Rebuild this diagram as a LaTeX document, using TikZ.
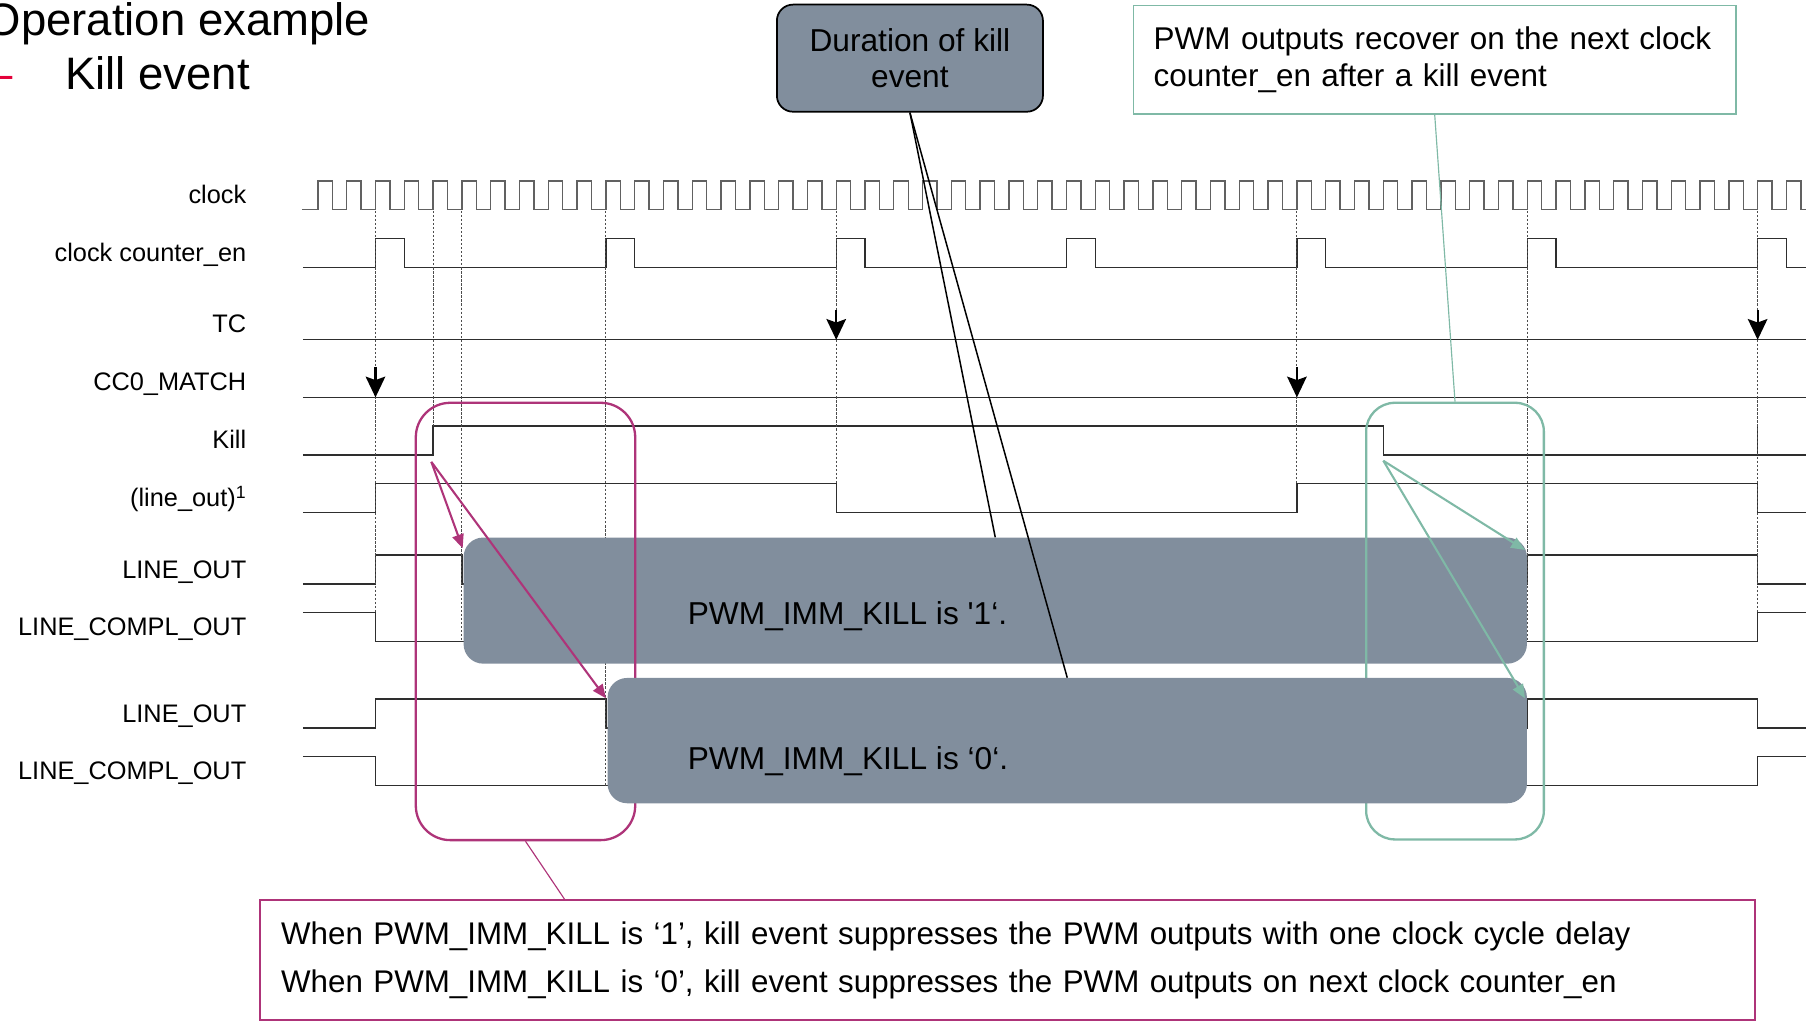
\documentclass[tikz,border=0pt]{standalone}
\usepackage{fontspec}
\setmainfont{Liberation Sans}
\newfontfamily\plainquote{Liberation Sans}
\usepackage{tikz}
\usetikzlibrary{positioning,arrows.meta}
\definecolor{killgray}{HTML}{818E9D}
\definecolor{immpink}{HTML}{AE3479}
\definecolor{recgreen}{HTML}{7FB9A6}
\definecolor{stred}{HTML}{E4003A}

\begin{document}
\begin{tikzpicture}[x=1pt,y=-1pt,
      wave line/.style={draw=black!82,line width=1.2pt},
      clock line/.style={draw=black!62,line width=1.2pt},
      guide line/.style={draw=black!70,line width=0.8pt,dash pattern=on 2pt off 1.5pt},
      event arrow/.style={-{Stealth[length=18pt,width=17pt,inset=3pt]},line width=1.8pt},
      hint arrow/.style={-{Triangle[length=12pt,width=10pt]},line width=1.8pt},
      label node/.style={anchor=base east,inner sep=0pt,font=\fontsize{22}{26}\selectfont},
      kill box/.style={rectangle,rounded corners=17pt,fill=killgray,inner sep=0pt},
      box text/.style={anchor=base west,inner sep=0pt,font=\fontsize{27.5}{33}\selectfont},
      focus frame/.style={rectangle,rounded corners=#1,line width=2pt,inner sep=0pt,anchor=north west}]
      \useasboundingbox (0,0) rectangle (1568,886);

      \node[anchor=base east,inner sep=0pt,font=\fontsize{39.5}{44}\selectfont] (title) at (321.5,30.4) {Operation example};
      \node[anchor=base west,inner sep=0pt,font=\fontsize{39.5}{44}\selectfont] (subtitle) at (56.5,78) {Kill event};
      \node[anchor=base east,inner sep=0pt,text=stred,font=\fontsize{39.5}{44}\selectfont] (dash) at (11,78) {–};

      \node[label node] (l-clk) at (214,177) {clock};
      \node[label node] (l-cnt) at (214,227) {clock counter\_en};
      \node[label node] (l-tc) at (214,289) {TC};
      \node[label node] (l-cc0) at (214,339) {CC0\_MATCH};
      \node[label node] (l-kill) at (214,389) {Kill};
      \node[label node] (l-line) at (214,440) {(line\_out)\textsuperscript{1}};
      \node[label node] (l-out1) at (214,502) {LINE\_OUT};
      \node[label node] (l-compl1) at (214,552) {LINE\_COMPL\_OUT};
      \node[label node] (l-out0) at (214,627) {LINE\_OUT};
      \node[label node] (l-compl0) at (214,677) {LINE\_COMPL\_OUT};

      \draw[clock line] (262,182) \foreach \k in {0,...,51} {-- (276+25*\k,182) -- ++(0,-25) -- ++(12.5,0) -- ++(0,25)} -- (1568,182);
      \draw[wave line] (263,232) \foreach \j in {0,...,6} {-- (326+200*\j,232) -- ++(0,-25) -- ++(25,0) -- ++(0,25)} -- (1568,232);
      \draw[wave line] (263,295) -- (1568,295);
      \draw[wave line] (263,345) -- (1568,345);
      \draw[wave line] (263,395) -- (376,395) -- (376,370) -- (1201,370) -- (1201,395) -- (1568,395);
      \draw[wave line] (1526,370) -- (1526,395);
      \draw[wave line] (263,445) -- (326,445) -- (326,420) -- (726,420) -- (726,445) -- (1126,445) -- (1126,420) -- (1526,420) -- (1526,445) -- (1568,445);
      \draw[wave line] (263,507) -- (326,507) -- (326,482) -- (401,482) -- (401,507) -- (1326,507) -- (1326,482) -- (1526,482) -- (1526,507) -- (1568,507);
      \draw[wave line] (263,532) -- (326,532) -- (326,557) -- (1526,557) -- (1526,532) -- (1568,532);
      \draw[wave line] (263,632) -- (326,632) -- (326,607) -- (526,607) -- (526,632) -- (1326,632) -- (1326,607) -- (1526,607) -- (1526,632) -- (1568,632);
      \draw[wave line] (263,657) -- (326,657) -- (326,682) -- (1526,682) -- (1526,657) -- (1568,657);

      \foreach \x/\e in {326/532,376/370,401/557,526/682,726/420,1126/420,1326/557,1526/532}
        \draw[guide line] (\x,183) -- (\x,\e);

      \draw[event arrow] (726,269) -- (726,295);
      \draw[event arrow] (1526,269) -- (1526,295);
      \draw[event arrow] (326,319) -- (326,345);
      \draw[event arrow] (1126,319) -- (1126,345);

      \node[kill box,minimum width=923.2pt,minimum height=109.5pt,anchor=north west] (imm1) at (402.3,466.5) {};
      \node[box text] (imm1txt) at (597,542) {PWM\_IMM\_KILL is {\plainquote '}1‘.};

      \node[focus frame=30pt,draw=immpink,minimum width=190.5pt,minimum height=379.7pt] (immframe) at (360,348.7) {};
      \node[focus frame=25pt,draw=recgreen,minimum width=154.3pt,minimum height=379.1pt] (recframe) at (1185.1,348.7) {};

      \node[kill box,minimum width=798.2pt,minimum height=108.8pt] (imm0) [below left=12pt and 0pt of imm1.south east] {};
      \node[box text] (imm0txt) at (597,668) {PWM\_IMM\_KILL is ‘0‘.};

      \coordinate (killon) at (374.5,401);
      \coordinate (imm1hit) at (401.7,476);
      \coordinate (imm0hit) at (526.1,606.3);
      \coordinate (killoff) at (1201,400);
      \coordinate (rec1hit) at (1324,477.5);
      \coordinate (rec0hit) at (1324,606.3);
      \path[hint arrow,immpink] (killon) edge (imm1hit) edge (imm0hit);
      \path[hint arrow,recgreen] (killoff) edge (rec1hit) edge (rec0hit);

      \node[draw=black,fill=killgray,rounded corners=14pt,line width=1.5pt,minimum width=231pt,minimum height=93pt,
            inner sep=0pt,align=center,font=\fontsize{27.5}{31}\selectfont] (dur) at (790,50.5) {Duration of kill\\event};
      \node[draw=recgreen,fill=white,line width=1.5pt,anchor=north west,minimum height=94.4pt,text width=488pt,
            inner xsep=17.6pt,inner ysep=0pt,align=left,font=\fontsize{27.3}{32}\selectfont] (recover) at (983.3,4)
            {PWM outputs recover on the next clock\\counter\_en after a kill event};
      \node[draw=immpink,fill=white,line width=1.8pt,anchor=north west,minimum height=104.5pt,text width=1262pt,
            inner xsep=18pt,inner ysep=0pt,align=left,font=\fontsize{27.2}{42}\selectfont] (note) at (225.2,780.5)
            {When PWM\_IMM\_KILL is ‘1’, kill event suppresses the PWM outputs with one clock cycle delay\\
             When PWM\_IMM\_KILL is ‘0’, kill event suppresses the PWM outputs on next clock counter\_en};

      \coordinate (notetop) at (490,780.5);
      \path[line width=1.3pt] (dur.south) edge (imm1.north) edge (imm0.north);
      \path[immpink,line width=1pt] (immframe.south) edge (notetop);
      \path[recgreen,line width=1pt] (recframe.north) edge (recover.south);
    \end{tikzpicture}
\end{document}
